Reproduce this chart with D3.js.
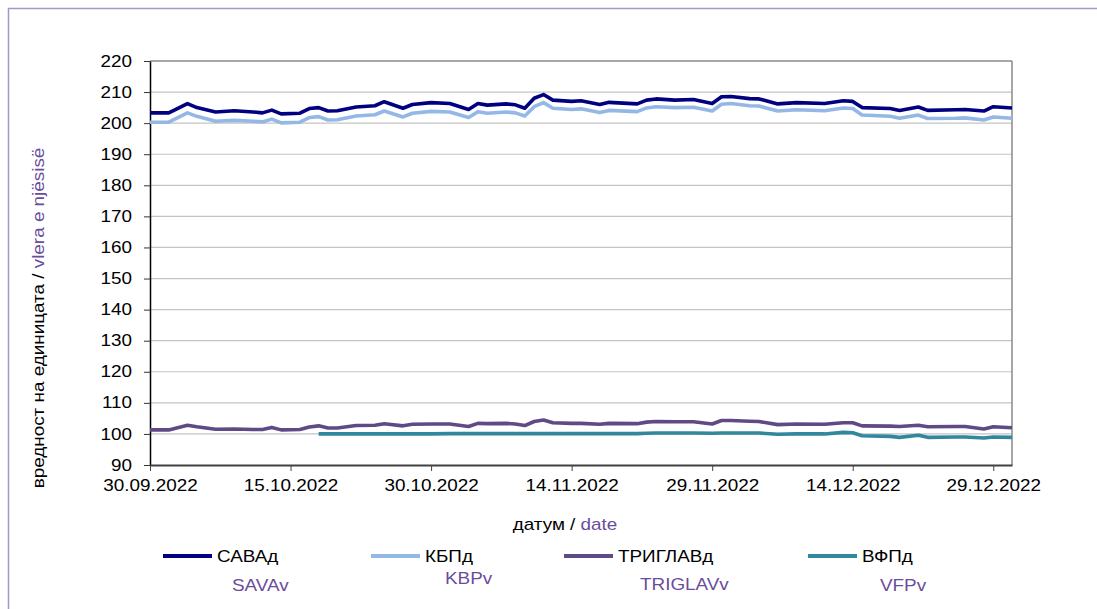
<!DOCTYPE html>
<html><head><meta charset="utf-8">
<script src="https://cdn.jsdelivr.net/npm/d3@7/dist/d3.min.js"></script>
<style>body{margin:0;background:#fff}svg{display:block}text{font-family:"Liberation Sans",Arial,sans-serif}</style>
</head><body><svg id="c" width="1097" height="609"></svg>
<script>
// ---- data ----
const dates = ["2022-09-30","2022-10-02","2022-10-04","2022-10-05","2022-10-07","2022-10-09","2022-10-11","2022-10-12","2022-10-13","2022-10-14",
"2022-10-16","2022-10-17","2022-10-18","2022-10-19","2022-10-20","2022-10-22","2022-10-24","2022-10-25","2022-10-27","2022-10-28",
"2022-10-30","2022-11-01","2022-11-03","2022-11-04","2022-11-05","2022-11-07","2022-11-08","2022-11-09","2022-11-10","2022-11-11",
"2022-11-12","2022-11-14","2022-11-15","2022-11-17","2022-11-18","2022-11-21","2022-11-22","2022-11-23","2022-11-25","2022-11-27",
"2022-11-29","2022-11-30","2022-12-01","2022-12-03","2022-12-04","2022-12-06","2022-12-08","2022-12-11","2022-12-13","2022-12-14",
"2022-12-15","2022-12-18","2022-12-19","2022-12-21","2022-12-22","2022-12-25","2022-12-26","2022-12-28","2022-12-29","2022-12-31"];
const sava = [203.3,203.3,206.3,205.0,203.6,204.0,203.6,203.3,204.2,203.0,
203.2,204.7,205.0,203.9,204.0,205.2,205.6,206.9,204.8,206.0,
206.6,206.3,204.4,206.3,205.8,206.2,205.9,204.8,208.0,209.2,
207.4,207.0,207.2,206.0,206.7,206.2,207.4,207.8,207.4,207.6,
206.3,208.5,208.6,207.9,207.8,206.2,206.6,206.3,207.2,207.0,
205.0,204.7,204.1,205.2,204.1,204.3,204.4,203.9,205.3,204.9];
const kbp = [200.3,200.3,203.3,202.2,200.6,200.9,200.6,200.4,201.3,200.1,
200.3,201.8,202.1,201.0,201.1,202.3,202.7,203.9,202.0,203.2,
203.8,203.6,201.8,203.7,203.2,203.6,203.3,202.3,205.3,206.6,
204.8,204.4,204.6,203.4,204.1,203.7,204.9,205.3,205.0,205.1,
203.9,206.1,206.3,205.6,205.5,203.9,204.3,204.0,204.9,204.7,
202.6,202.2,201.6,202.6,201.5,201.6,201.7,201.0,202.0,201.6];
const triglav = [101.3,101.3,102.8,102.3,101.5,101.6,101.4,101.4,102.1,101.3,
101.4,102.2,102.6,101.9,101.9,102.7,102.8,103.3,102.6,103.1,
103.2,103.2,102.4,103.4,103.3,103.4,103.2,102.7,104.0,104.5,
103.6,103.4,103.4,103.1,103.4,103.3,103.8,104.0,103.9,103.9,
103.2,104.3,104.3,104.1,104.0,103.0,103.2,103.1,103.6,103.6,
102.6,102.5,102.4,102.8,102.3,102.4,102.4,101.6,102.3,102.0];
const vfp = [null,null,null,null,null,null,null,null,null,null,
null,null,100.0,100.0,100.0,100.0,100.0,100.0,100.0,100.0,
100.0,100.1,100.1,100.1,100.1,100.1,100.1,100.1,100.1,100.1,
100.1,100.1,100.1,100.1,100.1,100.1,100.2,100.3,100.3,100.3,
100.2,100.3,100.3,100.3,100.3,99.9,100.0,100.0,100.5,100.4,
99.4,99.2,98.9,99.6,98.9,99.0,99.0,98.7,99.0,98.9];
const seriesNames = ["САВАд","КБПд","ТРИГЛАВд","ВФПд"];
const seriesNamesLatin = ["SAVAv","KBPv","TRIGLAVv","VFPv"];
const yTicks = [90,100,110,120,130,140,150,160,170,180,190,200,210,220];
const xTickLabels = ["30.09.2022","15.10.2022","30.10.2022","14.11.2022","29.11.2022","14.12.2022","29.12.2022"];
const xDomainLabels = ["30.09.2022","31.12.2022"];
const yTitle = ["вредност на единицата / ","vlera e njësisë"];
const xTitle = ["датум / ","date"];

// ---- layout ----
const SX = 1.18;
const colors = ["#000080","#94b8e6","#5f4a85","#31879c"];
const purple = "#6a4c9c";
const L = 150, R = 1012, T = 61, B = 465;
const svg = d3.select("#c");
const parseISO = d3.utcParse("%Y-%m-%d");
const parseDMY = d3.utcParse("%d.%m.%Y");
const x = d3.scaleUtc().domain(xDomainLabels.map(parseDMY)).range([L, R]);
const y = d3.scaleLinear().domain([90, 220]).range([B, T]);

// outer border
svg.append("rect").attr("x",8.5).attr("y",8.5).attr("width",1100).attr("height",620)
  .attr("fill","none").attr("stroke","#a497cc").attr("stroke-width",1.5);

// gridlines
svg.append("g").selectAll("line").data(yTicks.filter(v=>v>90)).join("line")
  .attr("x1",L).attr("x2",R).attr("y1",d=>y(d)).attr("y2",d=>y(d))
  .attr("stroke",d=>d===220?"#8a8a8a":"#c4c4c4").attr("stroke-width",d=>d===220?1.5:1.2);
// right border
svg.append("line").attr("x1",R).attr("x2",R).attr("y1",T).attr("y2",B)
  .attr("stroke","#8a8a8a").attr("stroke-width",1.5);

// y axis
const gy = svg.append("g").attr("transform",`translate(${L},0)`)
  .call(d3.axisLeft(y).tickValues(yTicks).tickSize(6).tickPadding(12).tickSizeOuter(0));
gy.select(".domain").attr("stroke","#000").attr("stroke-width",1.5);
gy.selectAll(".tick line").attr("stroke","#333");
gy.selectAll(".tick text").attr("font-size",16).attr("font-family","Liberation Sans, Arial")
  .attr("fill","#000").attr("x",-18/SX).attr("transform",`scale(${SX},1)`);

// x axis
const gx = svg.append("g").attr("transform",`translate(0,${B})`)
  .call(d3.axisBottom(x).tickValues(xTickLabels.map(parseDMY)).tickSize(6).tickPadding(9).tickSizeOuter(0)
    .tickFormat(d3.utcFormat("%d.%m.%Y")));
gx.select(".domain").attr("stroke","#404040").attr("stroke-width",1.8);
gx.selectAll(".tick line").attr("stroke","#404040");
gx.selectAll(".tick text").attr("font-size",16).attr("font-family","Liberation Sans, Arial")
  .attr("fill","#000").attr("transform",`scale(${SX},1)`);

// lines
const allSeries = [sava,kbp,triglav,vfp];
const line = d3.line().defined(d=>d[1]!=null).x(d=>x(parseISO(d[0]))).y(d=>y(d[1]));
allSeries.forEach((vals,i)=>{
  svg.append("path").datum(dates.map((d,j)=>[d,vals[j]]))
    .attr("fill","none").attr("stroke",colors[i]).attr("stroke-width",3.6)
    .attr("stroke-linejoin","round").attr("d",line);
});

// stretched text helper
function txt(xp, yp, parts, anchor, size){
  const t = svg.append("text").attr("transform",`translate(${xp},${yp}) scale(${SX},1)`)
    .attr("font-size",size||16).attr("text-anchor",anchor||"start");
  parts.forEach(p=>t.append("tspan").attr("fill",p[1]).text(p[0]));
  return t;
}

// axis titles
txt(565, 530, [[xTitle[0],"#000"],[xTitle[1],purple]], "middle");
svg.append("text").attr("transform",`translate(44,318) rotate(-90) scale(${SX},1)`)
  .attr("font-size",16).attr("text-anchor","middle")
  .call(t=>{t.append("tspan").attr("fill","#000").text(yTitle[0]); t.append("tspan").attr("fill",purple).text(yTitle[1]);});

// legend
const legX = [163, 371, 564, 808];
const latinPos = [[232,591],[445,584],[640,590],[880,591]];
seriesNames.forEach((n,i)=>{
  svg.append("line").attr("x1",legX[i]).attr("x2",legX[i]+49).attr("y1",556).attr("y2",556)
    .attr("stroke",colors[i]).attr("stroke-width",4);
  txt(legX[i]+54, 562, [[n,"#000"]], "start");
  txt(latinPos[i][0], latinPos[i][1], [[seriesNamesLatin[i],purple]], "start");
});
</script></body></html>
